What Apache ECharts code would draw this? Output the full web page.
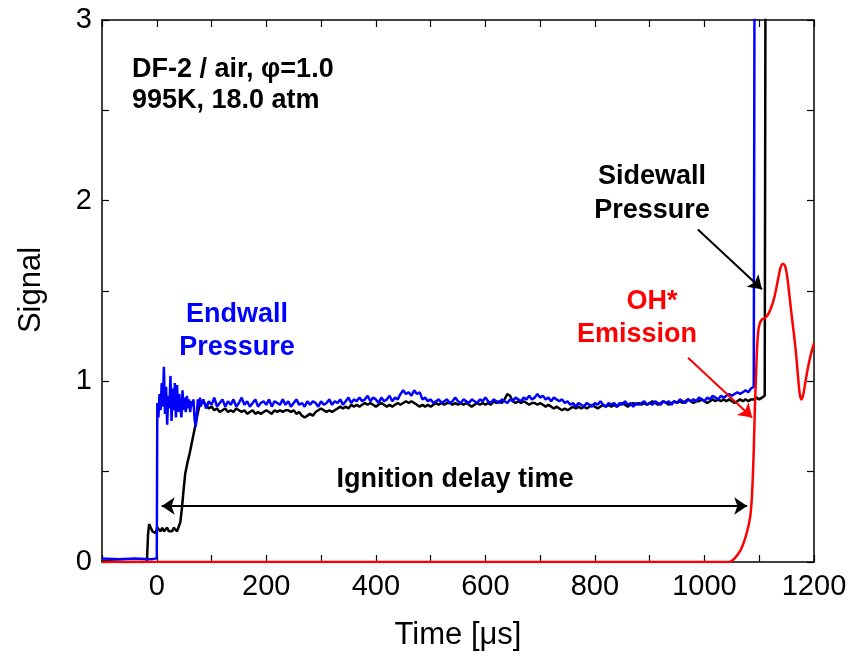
<!DOCTYPE html>
<html>
<head>
<meta charset="utf-8">
<script src="https://cdn.jsdelivr.net/npm/echarts@6/dist/echarts.min.js"></script>
<style>
  html, body { margin: 0; padding: 0; background: #fff; }
  #chart { width: 850px; height: 657px; }
</style>
</head>
<body>
<div id="chart"></div>
<script>
// axis ticks
const xTicks = [0, 200, 400, 600, 800, 1000, 1200];
const yTicks = [0, 1, 2, 3];

// endwall pressure (blue)
const endwallPre = [[-100, 0.02], [-70, 0.015], [-40, 0.02], [-10, 0.015], [0, 0.02]];
const endwallEarlyStart = 1, endwallEarlyStep = 2;
const endwallEarly = [
  0.88, 0.80, 0.93, 0.84, 0.99, 0.86, 1.08, 0.82, 0.97, 0.76,
  0.92, 0.85, 1.03, 0.78, 0.96, 0.84, 0.99, 0.80, 0.98, 0.83,
  0.93, 0.86, 0.80, 0.95, 0.84, 0.91, 0.83, 0.92, 0.85, 0.90,
  0.83, 0.89, 0.86, 0.90, 0.79, 0.75, 0.81, 0.90, 0.86, 0.91
];
const endwallMainStart = 80, endwallMainStep = 5;
const endwallMain = [
  0.86, 0.90, 0.85, 0.89, 0.87, 0.91, 0.86, 0.88, 0.90, 0.86,
  0.89, 0.87, 0.90, 0.86, 0.88, 0.91, 0.87, 0.89, 0.86, 0.88,
  0.90, 0.86, 0.88, 0.89, 0.87, 0.90, 0.86, 0.89, 0.88, 0.87,
  0.90, 0.87, 0.89, 0.86, 0.88, 0.90, 0.87, 0.88, 0.86, 0.89,
  0.87, 0.89, 0.88, 0.86, 0.89, 0.87, 0.88, 0.90, 0.87, 0.89,
  0.88, 0.90, 0.87, 0.89, 0.91, 0.88, 0.90, 0.89, 0.91, 0.89,
  0.90, 0.92, 0.89, 0.91, 0.90, 0.88, 0.91, 0.89, 0.90, 0.92,
  0.89, 0.91, 0.90, 0.93, 0.95, 0.93, 0.94, 0.92, 0.95, 0.93,
  0.94, 0.90, 0.91, 0.89, 0.90, 0.88, 0.89, 0.90, 0.88, 0.89,
  0.90, 0.88, 0.89, 0.91, 0.89, 0.88, 0.90, 0.89, 0.88, 0.90,
  0.89, 0.88, 0.90, 0.89, 0.91, 0.89, 0.88, 0.90, 0.89, 0.88,
  0.90, 0.89, 0.88, 0.90, 0.89, 0.91, 0.90, 0.89, 0.91, 0.90,
  0.92, 0.90, 0.91, 0.93, 0.91, 0.92, 0.90, 0.91, 0.89, 0.91,
  0.90, 0.89, 0.90, 0.88, 0.89, 0.87, 0.88, 0.86, 0.88, 0.87,
  0.86, 0.88, 0.87, 0.86, 0.88, 0.87, 0.89, 0.87, 0.86, 0.88,
  0.87, 0.88, 0.86, 0.88, 0.87, 0.89, 0.87, 0.88, 0.86, 0.88,
  0.87, 0.88, 0.89, 0.87, 0.88, 0.87, 0.89, 0.88, 0.87, 0.89,
  0.88, 0.89, 0.87, 0.89, 0.88, 0.90, 0.89, 0.88, 0.90, 0.89,
  0.90, 0.89, 0.91, 0.90, 0.89, 0.91, 0.90, 0.92, 0.91, 0.90,
  0.92, 0.91, 0.92, 0.93, 0.92, 0.93, 0.94, 0.93, 0.94, 0.95,
  0.94, 0.96, 0.97
];
const endwallSpike = [[1092, 0.97], [1092.5, 5]];

// sidewall pressure (black)
const sidewallPre = [
  [-100, 0.005], [-60, 0.0], [-18, 0.0], [-16, 0.15], [-14, 0.21], [-11, 0.20],
  [-8, 0.17], [-5, 0.18], [-2, 0.16], [1, 0.19], [4, 0.18], [7, 0.17], [10, 0.19],
  [13, 0.17], [16, 0.18], [19, 0.19], [22, 0.17], [25, 0.18], [28, 0.17], [31, 0.19],
  [34, 0.18], [37, 0.17], [40, 0.18], [43, 0.22], [46, 0.30], [49, 0.40], [52, 0.49],
  [56, 0.55], [60, 0.60], [64, 0.66], [68, 0.72], [72, 0.78], [76, 0.84], [79, 0.88],
  [83, 0.89], [87, 0.88]
];
const sidewallMainStart = 90, sidewallMainStep = 5;
const sidewallMain = [
  0.87, 0.85, 0.86, 0.84, 0.85, 0.83, 0.84, 0.85, 0.83, 0.84,
  0.83, 0.85, 0.84, 0.83, 0.84, 0.82, 0.83, 0.84, 0.82, 0.83,
  0.82, 0.83, 0.84, 0.83, 0.82, 0.84, 0.83, 0.84, 0.83, 0.84,
  0.84, 0.83, 0.84, 0.82, 0.83, 0.81, 0.80, 0.81, 0.82, 0.81,
  0.83, 0.84, 0.85, 0.84, 0.83, 0.84, 0.83, 0.84, 0.85, 0.86,
  0.85, 0.86, 0.85, 0.87, 0.86, 0.87, 0.86, 0.87, 0.88, 0.87,
  0.88, 0.87, 0.86, 0.87, 0.88, 0.87, 0.86, 0.87, 0.86, 0.87,
  0.88, 0.87, 0.88, 0.89, 0.88, 0.89, 0.88, 0.87, 0.86, 0.87,
  0.86, 0.87, 0.86, 0.87, 0.88, 0.87, 0.88, 0.87, 0.88, 0.88,
  0.87, 0.88, 0.87, 0.88, 0.87, 0.88, 0.87, 0.86, 0.87, 0.88,
  0.87, 0.88, 0.87, 0.88, 0.87, 0.89, 0.88, 0.89, 0.88, 0.90,
  0.93, 0.92, 0.89, 0.88, 0.89, 0.88, 0.89, 0.88, 0.87, 0.88,
  0.88, 0.87, 0.88, 0.87, 0.86, 0.87, 0.86, 0.85, 0.86, 0.85,
  0.84, 0.85, 0.84, 0.85, 0.86, 0.85, 0.86, 0.85, 0.86, 0.85,
  0.86, 0.87, 0.86, 0.85, 0.86, 0.87, 0.86, 0.87, 0.86, 0.87,
  0.86, 0.87, 0.88, 0.87, 0.86, 0.87, 0.88, 0.87, 0.88, 0.87,
  0.88, 0.87, 0.88, 0.89, 0.88, 0.87, 0.88, 0.89, 0.88, 0.87,
  0.88, 0.89, 0.88, 0.89, 0.88, 0.89, 0.90, 0.89, 0.88, 0.89,
  0.89, 0.90, 0.89, 0.88, 0.89, 0.90, 0.89, 0.90, 0.89, 0.90,
  0.89, 0.90, 0.89, 0.88, 0.89, 0.90, 0.89, 0.90, 0.89, 0.90,
  0.90, 0.91, 0.90, 0.91, 0.92
];
const sidewallSpike = [[1112, 0.92], [1112.5, 5]];

// OH* emission (red)
const ohTime = [
  -100, 1045, 1055, 1065, 1072, 1078, 1083, 1086, 1088, 1090, 1092, 1094, 1096, 1098,
  1100, 1104, 1110, 1116, 1122, 1128, 1134, 1139, 1143, 1147, 1151, 1155, 1159, 1163,
  1167, 1171, 1174, 1177, 1180, 1184, 1188, 1192, 1196, 1200
];
const ohSignal = [
  0, 0, 0.02, 0.06, 0.11, 0.17, 0.24, 0.33, 0.45, 0.62, 0.85, 1.02, 1.18, 1.27,
  1.31, 1.34, 1.35, 1.37, 1.41, 1.47, 1.56, 1.63, 1.65, 1.64, 1.58, 1.48, 1.37, 1.27,
  1.16, 1.02, 0.93, 0.90, 0.92, 0.99, 1.06, 1.12, 1.17, 1.21
];

// annotation arrows [from, to] in data coordinates
const sidewallArrow = [[988, 1.84], [1105, 1.51]];
const ohArrow = [[970, 1.13], [1087, 0.80]];
const delayArrow = [[9, 0.31], [1078, 0.31]];

function grid(start, step, vals) {
  return vals.map((v, i) => [start + i * step, v]);
}

const endwallData = endwallPre
  .concat(grid(endwallEarlyStart, endwallEarlyStep, endwallEarly))
  .concat(grid(endwallMainStart, endwallMainStep, endwallMain))
  .concat(endwallSpike);
const sidewallData = sidewallPre
  .concat(grid(sidewallMainStart, sidewallMainStep, sidewallMain))
  .concat(sidewallSpike);
const ohData = ohTime.map((t, i) => [t, ohSignal[i]]);

const font = '"Liberation Sans", Arial, sans-serif';

const chart = echarts.init(document.getElementById('chart'));

const axisCommon = {
  axisLine: { show: true, onZero: false, lineStyle: { color: '#000', width: 1.5 } },
  axisTick: { show: true, inside: true, length: 7, lineStyle: { color: '#000', width: 1.2 } },
  splitLine: { show: false }
};

function bold(text, x, y, color, align) {
  return {
    type: 'text', x: x, y: y, z: 100,
    style: {
      text: text, fill: color, font: 'bold 27px ' + font,
      textAlign: align || 'center', textVerticalAlign: 'middle'
    }
  };
}

let option = {
  animation: false,
  backgroundColor: '#fff',
  grid: { left: 102, right: 36, top: 20, bottom: 95 },
  xAxis: [
    Object.assign({
      type: 'value', min: -100, max: 1200, interval: 100, position: 'bottom',
      axisLabel: {
        color: '#000', fontSize: 29, fontFamily: font, margin: 10,
        formatter: v => (xTicks.indexOf(v) >= 0 ? String(v) : '')
      }
    }, axisCommon),
    Object.assign({
      type: 'value', min: -100, max: 1200, interval: 100, position: 'top',
      axisLabel: { show: false }
    }, axisCommon)
  ],
  yAxis: [
    Object.assign({
      type: 'value', min: 0, max: 3, interval: 0.5, position: 'left',
      axisLabel: {
        color: '#000', fontSize: 29, fontFamily: font, margin: 10,
        formatter: v => (yTicks.indexOf(v) >= 0 ? String(v) : '')
      }
    }, axisCommon),
    Object.assign({
      type: 'value', min: 0, max: 3, interval: 0.5, position: 'right',
      axisLabel: { show: false }
    }, axisCommon)
  ],
  series: [
    {
      name: 'Sidewall Pressure', type: 'line', data: sidewallData,
      showSymbol: false, clip: true,
      lineStyle: { color: '#000', width: 2.5 }, z: 2
    },
    {
      name: 'Endwall Pressure', type: 'line', data: endwallData,
      showSymbol: false, clip: true,
      lineStyle: { color: '#0000ff', width: 2.5 }, z: 3
    },
    {
      name: 'OH* Emission', type: 'line', data: ohData,
      showSymbol: false, clip: true, smooth: 0.3,
      lineStyle: { color: '#ff0000', width: 2.5 }, z: 4
    },
    {
      type: 'lines', coordinateSystem: 'cartesian2d', z: 5,
      symbol: ['none', 'arrow'], symbolSize: 13,
      lineStyle: { color: '#000', width: 2, opacity: 1 },
      data: [{ coords: sidewallArrow }]
    },
    {
      type: 'lines', coordinateSystem: 'cartesian2d', z: 5,
      symbol: ['none', 'arrow'], symbolSize: 13,
      lineStyle: { color: '#ff0000', width: 2, opacity: 1 },
      data: [{ coords: ohArrow }]
    },
    {
      type: 'lines', coordinateSystem: 'cartesian2d', z: 5,
      symbol: ['arrow', 'arrow'], symbolSize: 13,
      lineStyle: { color: '#000', width: 2, opacity: 1 },
      data: [{ coords: delayArrow }]
    }
  ],
  graphic: [
    bold('DF-2 / air, \u03c6=1.0', 132, 70, '#000', 'left'),
    bold('995K, 18.0 atm', 132, 101, '#000', 'left'),
    bold('Endwall', 237, 315, '#0000ff'),
    bold('Pressure', 237, 348, '#0000ff'),
    bold('Sidewall', 652, 177, '#000'),
    bold('Pressure', 652, 211, '#000'),
    bold('OH*', 652, 302, '#ff0000'),
    bold('Emission', 637, 335, '#ff0000'),
    bold('Ignition delay time', 455, 480, '#000'),
    {
      type: 'text', x: 458, y: 635,
      style: { text: 'Time [\u03bcs]', fill: '#000', font: '31px ' + font, textAlign: 'center', textVerticalAlign: 'middle' }
    },
    {
      type: 'text', x: 31, y: 290, rotation: Math.PI / 2,
      style: { text: 'Signal', fill: '#000', font: '31px ' + font, textAlign: 'center', textVerticalAlign: 'middle' }
    }
  ]
};

chart.setOption(option);
</script>
</body>
</html>
